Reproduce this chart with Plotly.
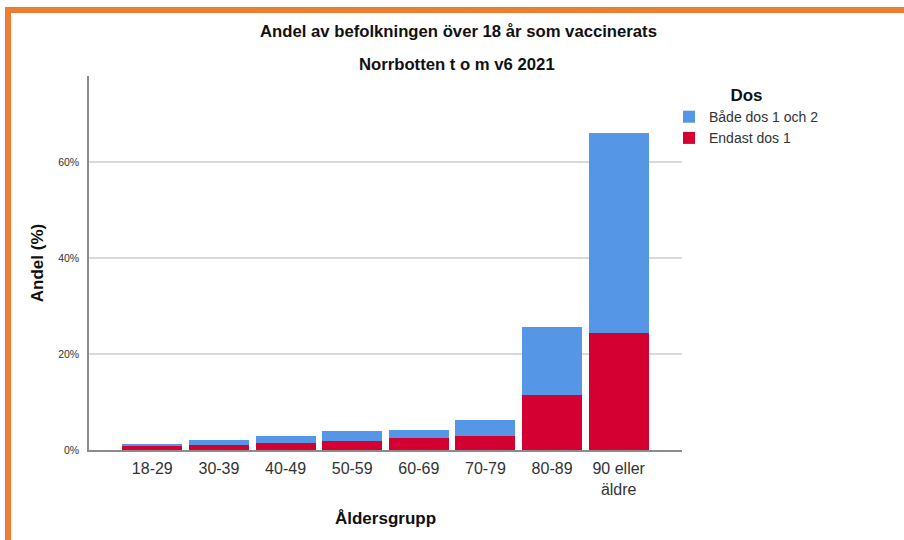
import plotly.graph_objects as go

categories = ["18-29", "30-39", "40-49", "50-59", "60-69", "70-79", "80-89", "90 eller<br>äldre"]
endast_dos1 = [0.9, 1.1, 1.5, 1.9, 2.4, 3.0, 11.4, 24.4]
bade_dos = [0.35, 0.9, 1.5, 2.0, 1.8, 3.3, 14.2, 41.6]
y_ticks = [0, 20, 40, 60]
y_tick_labels = ["0%", "20%", "40%", "60%"]

BLUE = "#5596E6"
RED = "#D50032"
ORANGE = "#ED7D31"
FONT = "Liberation Sans, Arial, sans-serif"

W, H = 904, 540
L, R, T, B = 89, 682, 76, 450

def px(x):
    return (x - L) / (R - L)

def py(y):
    return (B - y) / (B - T)

fig = go.Figure()
fig.add_trace(go.Bar(x=categories, y=endast_dos1, name="Endast dos 1",
                     marker=dict(color=RED, line=dict(width=0))))
fig.add_trace(go.Bar(x=categories, y=bade_dos, name="Både dos 1 och 2",
                     marker=dict(color=BLUE, line=dict(width=0))))

fig.update_layout(
    width=W, height=H,
    margin=dict(l=L, r=W - R, t=T, b=H - B, pad=0, autoexpand=False),
    barmode="stack", bargap=0.1,
    plot_bgcolor="white", paper_bgcolor="white",
    font=dict(family=FONT, color="#333333"),
    showlegend=True,
    legend=dict(
        traceorder="reversed",
        x=px(669), y=py(79), xanchor="left", yanchor="top",
        font=dict(size=14, color="#333333"),
        title=dict(text="<b>Dos</b>", side="top center",
                   font=dict(size=17, color="#111111")),
        itemclick=False, bgcolor="rgba(0,0,0,0)",
        tracegroupgap=0,
    ),
    xaxis=dict(
        type="category",
        range=[-0.95, 7.95],
        automargin=False,
        showline=True, linecolor="#8c8c8c", linewidth=1.5,
        showgrid=False, ticks="", zeroline=False,
        ticklabelstandoff=3,
        tickfont=dict(size=16, color="#333333"),
        title=dict(text="<b>Åldersgrupp</b>", font=dict(size=17, color="#111111"), standoff=15),
        fixedrange=True,
    ),
    yaxis=dict(
        range=[0, 77.9],
        automargin=False,
        tickvals=y_ticks, ticktext=y_tick_labels,
        showline=True, linecolor="#8c8c8c", linewidth=1.5,
        showgrid=True, gridcolor="#d9d9d9", gridwidth=1.5,
        zeroline=False, ticks="",
        ticklabelstandoff=6,
        tickfont=dict(size=10.5, color="#333333"),
        title=dict(text="<b>Andel (%)</b>", font=dict(size=17, color="#111111"), standoff=10),
        fixedrange=True,
    ),
)

fig.add_annotation(text="<b>Andel av befolkningen över 18 år som vaccinerats</b>",
                   xref="paper", yref="paper", x=px(458), y=py(32),
                   showarrow=False, xanchor="center", yanchor="middle",
                   font=dict(size=16.7, color="#111111", family=FONT))
fig.add_annotation(text="<b>Norrbotten t o m v6 2021</b>",
                   xref="paper", yref="paper", x=px(457), y=py(64),
                   showarrow=False, xanchor="center", yanchor="middle",
                   font=dict(size=16.7, color="#111111", family=FONT))

# orange frame (top and left edges)
fig.add_shape(type="rect", xref="paper", yref="paper",
              x0=px(5), x1=px(905), y0=py(13), y1=py(7),
              fillcolor=ORANGE, line=dict(width=0), layer="above")
fig.add_shape(type="rect", xref="paper", yref="paper",
              x0=px(5), x1=px(11), y0=py(541), y1=py(7),
              fillcolor=ORANGE, line=dict(width=0), layer="above")

fig.write_html("out.html", config={"displayModeBar": False},
               post_script="document.body.style.margin='0';document.body.style.overflow='hidden';")
